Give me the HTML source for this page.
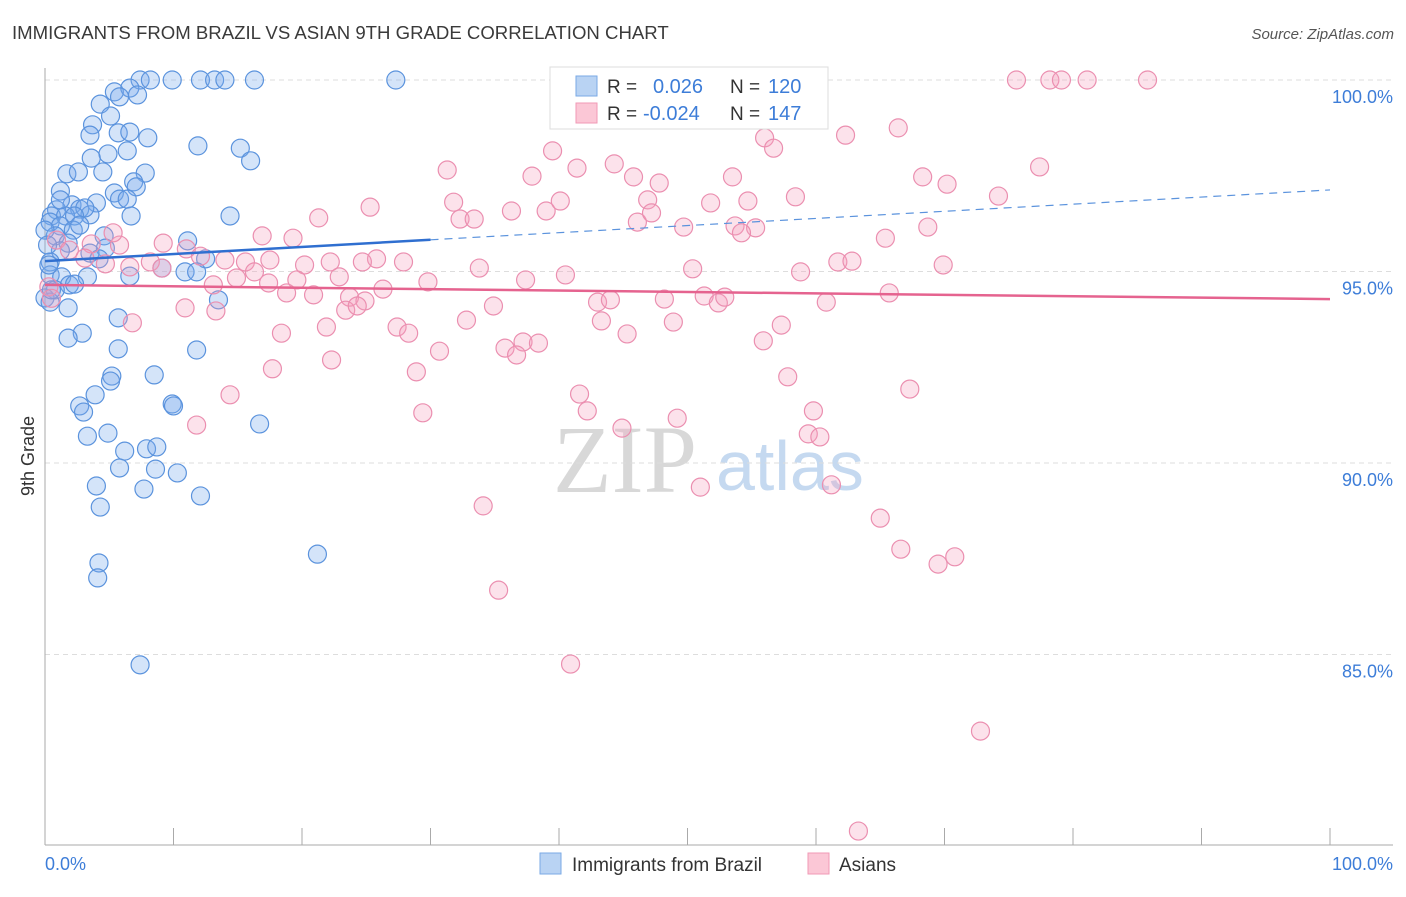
<!DOCTYPE html>
<html><head><meta charset="utf-8"><style>
body{margin:0;background:#fff;font-family:"Liberation Sans",sans-serif;}
svg text{font-family:"Liberation Sans",sans-serif;}
</style></head><body>
<svg id="chart" width="1406" height="892" xmlns="http://www.w3.org/2000/svg">
<text x="12" y="39" font-size="18.6" fill="#3a3a3a">IMMIGRANTS FROM BRAZIL VS ASIAN 9TH GRADE CORRELATION CHART</text>
<text x="1394" y="39" font-size="15" fill="#555" font-style="italic" text-anchor="end">Source: ZipAtlas.com</text>
<g>
<text x="553" y="492" font-size="96" fill="#d8d8d8" style="font-family:'Liberation Serif',serif">ZIP</text>
<text x="716" y="490" font-size="70" fill="#c5d9f0">atlas</text>
</g>
<g id="grid"></g>
<g id="pts"></g>
<g id="trend"></g>
<text transform="translate(34,456) rotate(-90)" font-size="18" fill="#333" text-anchor="middle">9th Grade</text>
<g>
<rect x="550" y="67" width="278" height="62" fill="#fff" stroke="#ddd"/>
<rect x="576" y="76" width="21" height="20" fill="#b9d3f3" stroke="#7aa9e6"/>
<rect x="576" y="103" width="21" height="20" fill="#fbc7d6" stroke="#f09ab6"/>
<text x="607" y="93" font-size="19" fill="#333">R =</text>
<text x="653" y="93" font-size="20" fill="#3d7dd8">0.026</text>
<text x="730" y="93" font-size="19" fill="#333">N =</text>
<text x="768" y="93" font-size="20" fill="#3d7dd8">120</text>
<text x="607" y="120" font-size="19" fill="#333">R =</text>
<text x="643" y="120" font-size="20" fill="#3d7dd8">-0.024</text>
<text x="730" y="120" font-size="19" fill="#333">N =</text>
<text x="768" y="120" font-size="20" fill="#3d7dd8">147</text>
</g>
<g>
<rect x="540" y="853" width="21" height="21" fill="#b9d3f3" stroke="#7aa9e6"/>
<text x="572" y="871" font-size="19" fill="#333">Immigrants from Brazil</text>
<rect x="808" y="853" width="21" height="21" fill="#fbc7d6" stroke="#f09ab6"/>
<text x="839" y="871" font-size="19" fill="#333">Asians</text>
</g>
</svg>
<script>
const blueX=[7.4,8.2,9.9,12.1,13.2,14.0,16.3,27.3,5.4,6.6,7.2,5.8,4.3,5.1,3.7,3.5,5.7,6.6,8.0,11.9,15.2,16.0,4.9,6.4,3.6,1.7,2.6,4.5,7.8,6.9,7.1,1.2,5.4,5.8,6.4,4.0,2.1,2.7,0.9,3.5,3.1,0.5,1.6,2.3,6.7,14.4,0.4,1.2,2.2,0.8,4.6,1.8,11.1,4.7,1.2,3.5,4.2,12.5,0.4,9.1,10.9,11.8,0.4,1.3,3.3,6.6,1.9,2.3,0.8,0,0.4,13.5,1.8,5.7,2.9,1.8,5.7,11.8,5.2,5.1,8.5,2.7,9.9,10.0,3.0,3.9,16.7,3.3,4.9,6.2,7.9,8.7,5.8,8.6,10.3,4.0,7.7,12.1,4.3,21.2,4.2,4.1,7.4,0,0.2,0.5,0.3,1.2,2.7];
const blueY=[100,100,100,100,100,100,100,100,99.69,99.79,99.61,99.56,99.37,99.06,98.83,98.56,98.62,98.64,98.49,98.28,98.22,97.89,98.07,98.15,97.96,97.55,97.60,97.60,97.57,97.34,97.21,97.10,97.05,96.89,96.89,96.79,96.74,96.63,96.61,96.48,96.66,96.45,96.45,96.45,96.45,96.45,96.29,96.19,96.08,95.93,95.93,95.74,95.80,95.61,95.54,95.48,95.33,95.33,95.25,95.09,94.99,94.99,94.91,94.86,94.86,94.88,94.65,94.67,94.52,94.31,94.20,94.26,94.05,93.79,93.39,93.26,92.98,92.95,92.27,92.14,92.30,91.49,91.54,91.49,91.33,91.78,91.02,90.70,90.78,90.31,90.37,90.42,89.87,89.84,89.74,89.40,89.32,89.14,88.85,87.62,87.39,87.00,84.73,96.08,95.69,94.52,95.17,96.87,96.21];
const pinkX=[75.6,78.2,79.1,81.1,85.8,66.4,62.3,56.0,56.7,39.5,77.4,31.3,44.3,41.4,37.9,45.8,47.8,53.5,68.3,70.2,74.2,31.8,36.3,39.0,40.1,46.9,51.8,58.4,54.7,46.1,47.2,49.7,53.7,55.3,54.2,68.7,32.3,33.4,21.3,25.3,16.9,19.3,65.4,9.2,11.0,0.9,3.6,5.8,1.9,5.3,12.1,14.0,15.6,17.5,20.2,25.8,27.9,22.2,24.7,33.8,40.5,50.4,58.8,61.7,62.8,69.9,4.7,3.1,6.6,8.2,9.1,14.9,16.3,17.4,13.1,19.6,22.9,29.8,37.4,26.3,18.8,20.9,23.7,24.9,23.4,24.3,34.9,43.0,44.0,48.2,51.3,52.4,52.9,60.8,65.7,10.9,13.3,32.8,43.3,48.9,57.3,6.8,18.4,21.9,27.4,28.3,45.3,55.9,37.2,38.4,35.8,36.7,22.3,30.7,17.7,28.9,57.8,14.4,41.6,67.3,42.2,59.8,29.4,49.2,11.8,44.9,59.4,60.3,61.2,51.0,34.1,65.0,66.6,69.5,70.8,35.3,40.9,72.8,63.3,0.3,0.5];
const pinkY=[100,100,100,100,100,98.75,98.56,98.49,98.22,98.15,97.73,97.65,97.81,97.70,97.49,97.47,97.31,97.47,97.47,97.28,96.97,96.81,96.58,96.58,96.84,96.87,96.79,96.95,96.84,96.29,96.53,96.16,96.19,96.14,96.01,96.16,96.37,96.37,96.40,96.68,95.93,95.87,95.87,95.74,95.59,95.82,95.72,95.69,95.56,96.01,95.40,95.30,95.25,95.30,95.17,95.33,95.25,95.25,95.25,95.09,94.91,95.07,94.99,95.25,95.27,95.17,95.20,95.35,95.12,95.25,95.09,94.83,94.99,94.70,94.65,94.78,94.86,94.73,94.78,94.54,94.44,94.39,94.33,94.23,93.99,94.10,94.10,94.20,94.26,94.28,94.36,94.18,94.33,94.20,94.44,94.05,93.97,93.73,93.71,93.68,93.60,93.66,93.39,93.55,93.55,93.39,93.37,93.19,93.16,93.13,93.00,92.82,92.69,92.92,92.46,92.38,92.25,91.78,91.80,91.93,91.36,91.36,91.31,91.17,90.99,90.91,90.76,90.68,89.43,89.37,88.88,88.56,87.75,87.36,87.55,86.68,84.75,83.00,80.39,94.6,94.3];
const yTicks=[100,95,90,85];
const yTickLabels=["100.0%","95.0%","90.0%","85.0%"];
const xTicks=[0,10,20,30,40,50,60,70,80,90,100];
const blueTrend=[95.27,97.13];
const pinkTrend=[94.65,94.28];
const NS="http://www.w3.org/2000/svg";
const sx=v=>45+v*12.85;
const sy=v=>80+(100-v)*38.3;
function mk(tag,attrs,parent){const e=document.createElementNS(NS,tag);for(const k in attrs)e.setAttribute(k,attrs[k]);parent.appendChild(e);return e;}
const grid=document.getElementById('grid');
yTicks.forEach((t,i)=>{
  const l=mk('line',{x1:45,x2:1393,y1:sy(t),y2:sy(t),stroke:'#ddd','stroke-dasharray':'5,4'},grid);
  
  
  const tx=mk('text',{x:1393,y:sy(t)+23,'font-size':18,fill:'#3d7dd8','text-anchor':'end'},grid);
  tx.textContent=yTickLabels[i];
  
  
});
const ya=mk('line',{x1:45,x2:45,y1:68,y2:845,stroke:'#aaa'},grid);


const xa=mk('line',{x1:45,x2:1393,y1:845,y2:845,stroke:'#aaa'},grid);


xTicks.forEach(t=>{
  const l=mk('line',{x1:sx(t),x2:sx(t),y1:828,y2:845,stroke:'#aaa'},grid);
  
  
});
const xl0=mk('text',{x:45,y:870,'font-size':18,fill:'#3d7dd8'},grid);xl0.textContent="0.0%";


const xl1=mk('text',{x:1393,y:870,'font-size':18,fill:'#3d7dd8','text-anchor':'end'},grid);xl1.textContent="100.0%";


const pts=document.getElementById('pts');
blueX.forEach((x,i)=>{
  const c=mk('circle',{cx:sx(x),cy:sy(blueY[i]),r:9,fill:'rgba(120,170,235,0.32)',stroke:'#5b93dd','stroke-width':1.2},pts);
  
  
});
pinkX.forEach((x,i)=>{
  const c=mk('circle',{cx:sx(x),cy:sy(pinkY[i]),r:9,fill:'rgba(245,160,190,0.3)',stroke:'#eb8fb0','stroke-width':1.2},pts);
  
  
});
const tr=document.getElementById('trend');
const bAt=x=>blueTrend[0]+(blueTrend[1]-blueTrend[0])*x/100;
const b1=mk('line',{x1:sx(0),y1:sy(bAt(0)),x2:sx(30),y2:sy(bAt(30)),stroke:'#2f6fd0','stroke-width':2.5},tr);


const b2=mk('line',{x1:sx(30),y1:sy(bAt(30)),x2:sx(100),y2:sy(bAt(100)),stroke:'#5b93dd','stroke-width':1.2,'stroke-dasharray':'8,6'},tr);


const p1=mk('line',{x1:sx(0),y1:sy(pinkTrend[0]),x2:sx(100),y2:sy(pinkTrend[1]),stroke:'#e5638f','stroke-width':2.5},tr);


</script>
</body></html>
